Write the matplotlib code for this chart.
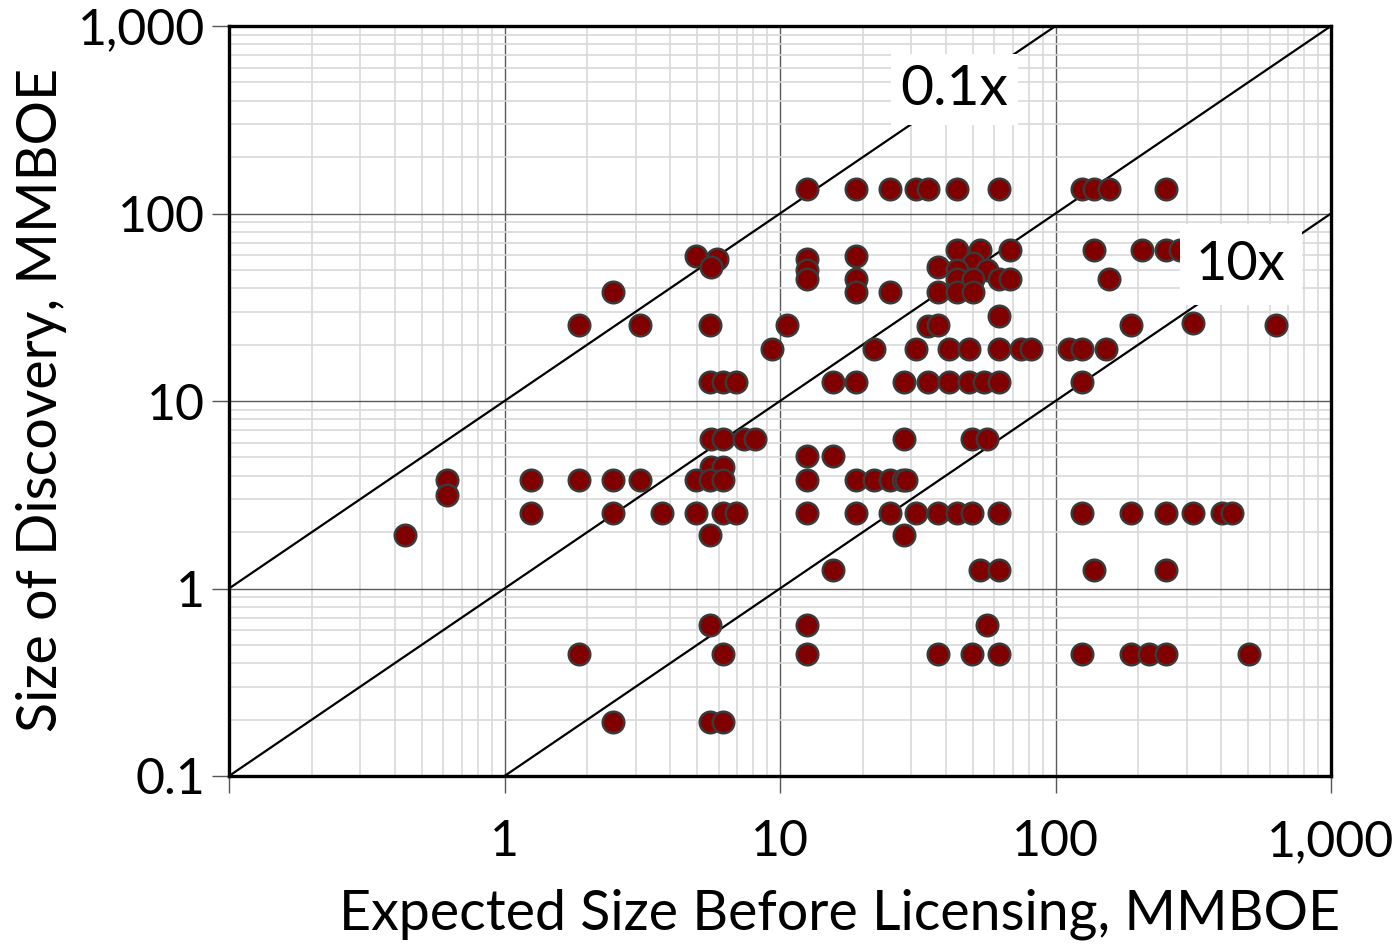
import numpy as np
import matplotlib
matplotlib.use("Agg")
import matplotlib.pyplot as plt

plt.rcParams['font.family'] = ['Lato', 'DejaVu Sans']

# expected size before licensing (MMBOE) and size of discovery (MMBOE)
expected = [
    12.5, 18.8, 25.0, 31.2, 34.4, 43.8, 62.5, 125, 138, 156, 251,
    43.9, 53.0, 68.5, 138, 206, 251, 284,
    18.8, 4.96, 12.5, 5.9, 50.0, 37.4, 5.6,
    12.5, 43.9, 56.6,
    12.5, 18.8, 43.9, 50.0, 62.6, 68.5, 156,
    2.47, 18.8, 25.0, 37.4, 43.9, 50.0,
    62.5,
    1.87, 3.11, 5.59, 10.6, 34.4, 37.5, 188, 315, 629,
    9.34, 21.9, 31.2, 41.2, 48.4, 62.6, 75.1, 81.6, 112, 125, 152,
    5.59, 6.2, 6.9, 15.6, 18.8, 28.1, 34.4, 41.2, 48.4, 55.2, 62.5, 125,
    5.62, 6.2, 7.43, 8.13, 28.1, 49.9, 56.5,
    12.5, 15.6,
    5.62, 6.2,
    0.62, 1.25, 1.87, 2.48, 3.11, 4.95, 5.59, 6.2, 12.5, 18.8, 21.9, 25.0, 27.9, 28.7,
    0.62,
    1.25, 2.48, 3.74, 4.96, 6.2, 6.9, 12.5, 18.8, 25.0, 31.2, 37.4, 43.8, 49.9, 62.6,
    125, 188, 251, 315, 403, 438,
    0.434, 5.59, 28.1,
    15.6, 53.0, 62.6, 138, 251,
    5.59, 12.5, 56.5,
    1.87, 6.2, 12.5, 37.4, 49.9, 62.6, 125, 188, 219, 251, 503,
    2.48, 5.59, 6.2,
]
discovery = [
    135, 135, 135, 135, 135, 135, 135, 135, 135, 135, 135,
    64, 64, 64, 64, 64, 64, 64,
    59, 59, 57, 57, 54.6, 52, 52,
    50, 50, 50,
    45, 45, 45, 45, 45, 45, 45,
    38, 38, 38, 38, 38, 38,
    28.3,
    25.3, 25.3, 25.3, 25.3, 25.0, 25.3, 25.3, 26.1, 25.3,
    19, 19, 19, 19, 19, 19, 19, 19, 19, 19, 19,
    12.7, 12.7, 12.7, 12.7, 12.7, 12.7, 12.7, 12.7, 12.7, 12.7, 12.7, 12.7,
    6.3, 6.3, 6.3, 6.3, 6.3, 6.3, 6.3,
    5.08, 5.08,
    4.46, 4.46,
    3.8, 3.8, 3.8, 3.8, 3.8, 3.8, 3.8, 3.8, 3.8, 3.8, 3.8, 3.8, 3.8, 3.8,
    3.17,
    2.53, 2.53, 2.53, 2.53, 2.53, 2.53, 2.53, 2.53, 2.53, 2.53, 2.53, 2.53, 2.53, 2.53,
    2.53, 2.53, 2.53, 2.53, 2.53, 2.53,
    1.92, 1.92, 1.92,
    1.26, 1.26, 1.26, 1.26, 1.26,
    0.635, 0.635, 0.635,
    0.445, 0.445, 0.445, 0.445, 0.445, 0.445, 0.445, 0.445, 0.445, 0.445, 0.445,
    0.193, 0.193, 0.193,
]

ratios = [10, 1, 0.1]
ticks = [0.1, 1, 10, 100, 1000]
ylabels = ["0.1", "1", "10", "100", "1,000"]
xlabels = ["", "1", "10", "100", "1,000"]

fig = plt.figure(figsize=(13.99, 9.48), dpi=100)
ax = fig.add_axes([229 / 1399, 1 - 776 / 948, 1102 / 1399, 750 / 948])
ax.set_xscale("log")
ax.set_yscale("log")
ax.set_xlim(0.1, 1000)
ax.set_ylim(0.1, 1000)

ax.grid(True, which="minor", color="#d9d9d9", lw=1.2, zorder=0)
ax.grid(True, which="major", color="#5a5a5a", lw=1.0, zorder=0)
ax.set_axisbelow(True)

xx = np.array([0.1, 1000])
for r in ratios:
    ax.plot(xx, xx * r, color="black", lw=1.6, zorder=2)

ax.scatter(expected, discovery, s=240, c="#800000", edgecolors="#3a3a3a",
           linewidths=1.8, zorder=3, clip_on=False)

ax.text(43, 458, "0.1x", fontsize=41, ha="center", va="center",
        bbox=dict(facecolor="white", edgecolor="none", pad=7), zorder=4)
ax.text(470, 53.5, "10x", fontsize=39, ha="center", va="center",
        bbox=dict(facecolor="white", edgecolor="none", boxstyle="square,pad=0.3"), zorder=4)

ax.set_xticks(ticks, xlabels)
ax.set_yticks(ticks, ylabels)
ax.minorticks_on()
ax.tick_params(which="major", direction="out", length=12, width=1, color="#555555",
               labelsize=36)
ax.tick_params(axis="x", which="major", pad=19)
ax.tick_params(axis="y", which="major", pad=5)
ax.tick_params(which="minor", length=0)

for s in ax.spines.values():
    s.set_linewidth(2.4)
    s.set_color("black")

ax.set_xlabel("Expected Size Before Licensing, MMBOE", fontsize=40)
ax.set_ylabel("Size of Discovery, MMBOE", fontsize=40)
ax.xaxis.set_label_coords(0.554, -0.185)
ax.yaxis.set_label_coords(-0.170, 0.501)
ax.xaxis.label.set_va("center")
ax.yaxis.label.set_va("center")

fig.savefig("out.png", dpi=100)
